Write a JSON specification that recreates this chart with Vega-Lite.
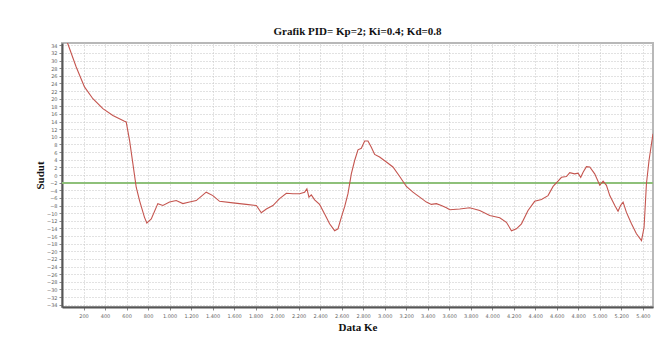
{
  "$schema": "https://vega.github.io/schema/vega-lite/v6.json",
  "autosize": {"type": "none"},
  "padding": {"left": 62, "top": 43, "right": 17, "bottom": 34},
  "width": 591,
  "height": 264,
  "background": "white",
  "config": {
    "locale": {"number": {"decimal": ",", "thousands": ".", "grouping": [3], "currency": ["", ""]}},
    "view": {"stroke": "#b8b8b8", "strokeWidth": 2},
    "axis": {
      "labelFont": "DejaVu Sans",
      "labelFontSize": 5,
      "labelColor": "#666666",
      "labelOverlap": false,
      "labelFlush": false,
      "tickColor": "#888888",
      "tickSize": 3,
      "grid": true,
      "gridColor": "#c4c4c4",
      "gridDash": [1, 2],
      "gridWidth": 1,
      "domainColor": "#555555",
      "domainWidth": 2,
      "titleFont": "Liberation Serif",
      "titleFontWeight": "bold",
      "titleFontSize": 11,
      "titleColor": "#111111"
    }
  },
  "title": {
    "text": "Grafik PID= Kp=2; Ki=0.4; Kd=0.8",
    "font": "Liberation Serif",
    "fontSize": 11,
    "fontWeight": "bold",
    "color": "#111111",
    "offset": 6
  },
  "data": {
    "values": [
      {"i": 20, "sudut": 37.5},
      {"i": 54, "sudut": 34.4},
      {"i": 132, "sudut": 28.3},
      {"i": 209, "sudut": 23.1},
      {"i": 287, "sudut": 20.0},
      {"i": 380, "sudut": 17.4},
      {"i": 473, "sudut": 15.6},
      {"i": 581, "sudut": 14.1},
      {"i": 597, "sudut": 13.9},
      {"i": 628, "sudut": 9.1},
      {"i": 659, "sudut": 3.0},
      {"i": 690, "sudut": -3.2},
      {"i": 721, "sudut": -6.7},
      {"i": 767, "sudut": -11.1},
      {"i": 789, "sudut": -12.6},
      {"i": 830, "sudut": -11.5},
      {"i": 891, "sudut": -7.5},
      {"i": 938, "sudut": -8.0},
      {"i": 1000, "sudut": -7.1},
      {"i": 1062, "sudut": -6.7},
      {"i": 1124, "sudut": -7.5},
      {"i": 1186, "sudut": -7.1},
      {"i": 1248, "sudut": -6.7},
      {"i": 1341, "sudut": -4.5},
      {"i": 1403, "sudut": -5.4},
      {"i": 1465, "sudut": -6.9},
      {"i": 1589, "sudut": -7.3},
      {"i": 1713, "sudut": -7.7},
      {"i": 1807, "sudut": -8.0},
      {"i": 1853, "sudut": -9.9},
      {"i": 1900, "sudut": -8.9},
      {"i": 1961, "sudut": -8.0},
      {"i": 2023, "sudut": -6.2},
      {"i": 2086, "sudut": -4.8},
      {"i": 2147, "sudut": -4.9},
      {"i": 2209, "sudut": -4.9},
      {"i": 2256, "sudut": -4.5},
      {"i": 2277, "sudut": -3.6},
      {"i": 2296, "sudut": -5.8},
      {"i": 2318, "sudut": -5.2},
      {"i": 2349, "sudut": -6.5},
      {"i": 2395, "sudut": -7.7},
      {"i": 2442, "sudut": -10.2},
      {"i": 2488, "sudut": -12.8},
      {"i": 2535, "sudut": -14.6},
      {"i": 2566, "sudut": -14.1},
      {"i": 2597, "sudut": -11.1},
      {"i": 2628, "sudut": -8.3},
      {"i": 2659, "sudut": -4.9},
      {"i": 2690, "sudut": 0.3},
      {"i": 2721, "sudut": 3.8},
      {"i": 2752, "sudut": 6.6},
      {"i": 2783, "sudut": 7.0},
      {"i": 2814, "sudut": 8.9},
      {"i": 2845, "sudut": 8.9},
      {"i": 2876, "sudut": 7.3},
      {"i": 2907, "sudut": 5.4},
      {"i": 2953, "sudut": 4.7},
      {"i": 3016, "sudut": 3.4},
      {"i": 3077, "sudut": 2.1},
      {"i": 3140, "sudut": -0.4},
      {"i": 3202, "sudut": -3.0},
      {"i": 3263, "sudut": -4.5},
      {"i": 3326, "sudut": -5.8},
      {"i": 3388, "sudut": -7.1},
      {"i": 3434, "sudut": -7.7},
      {"i": 3481, "sudut": -7.5},
      {"i": 3527, "sudut": -8.0},
      {"i": 3574, "sudut": -8.6},
      {"i": 3605, "sudut": -9.1},
      {"i": 3698, "sudut": -8.9},
      {"i": 3791, "sudut": -8.6},
      {"i": 3884, "sudut": -9.3},
      {"i": 3977, "sudut": -10.6},
      {"i": 4070, "sudut": -11.2},
      {"i": 4132, "sudut": -12.4},
      {"i": 4179, "sudut": -14.6},
      {"i": 4225, "sudut": -14.1},
      {"i": 4272, "sudut": -12.8},
      {"i": 4333, "sudut": -9.3},
      {"i": 4395, "sudut": -6.9},
      {"i": 4458, "sudut": -6.4},
      {"i": 4519, "sudut": -5.4},
      {"i": 4566, "sudut": -3.0},
      {"i": 4612, "sudut": -1.6},
      {"i": 4644, "sudut": -0.6},
      {"i": 4690, "sudut": -0.4},
      {"i": 4721, "sudut": 0.6},
      {"i": 4767, "sudut": 0.3},
      {"i": 4798, "sudut": 0.5},
      {"i": 4823, "sudut": -0.6},
      {"i": 4845, "sudut": 0.7},
      {"i": 4876, "sudut": 2.2},
      {"i": 4907, "sudut": 2.1},
      {"i": 4953, "sudut": 0.3},
      {"i": 5000, "sudut": -2.7},
      {"i": 5031, "sudut": -1.6},
      {"i": 5062, "sudut": -2.7},
      {"i": 5093, "sudut": -5.4},
      {"i": 5140, "sudut": -8.0},
      {"i": 5170, "sudut": -9.5},
      {"i": 5193, "sudut": -8.0},
      {"i": 5217, "sudut": -7.1},
      {"i": 5248, "sudut": -9.8},
      {"i": 5295, "sudut": -12.8},
      {"i": 5341, "sudut": -15.4},
      {"i": 5388, "sudut": -17.2},
      {"i": 5412, "sudut": -13.7},
      {"i": 5434, "sudut": -2.3},
      {"i": 5458, "sudut": 3.8},
      {"i": 5481, "sudut": 8.2},
      {"i": 5495, "sudut": 10.8}
    ]
  },
  "encoding": {
    "y": {
      "field": "sudut",
      "type": "quantitative",
      "title": "Sudut",
      "scale": {"domain": [-34.6, 34.6], "nice": false, "zero": false},
      "axis": {
        "values": [-34, -32, -30, -28, -26, -24, -22, -20, -18, -16, -14, -12, -10, -8, -6, -4, -2, 0, 2, 4, 6, 8, 10, 12, 14, 16, 18, 20, 22, 24, 26, 28, 30, 32, 34],
        "format": "d",
        "labelPadding": 2,
        "titlePadding": 1
      }
    }
  },
  "layer": [
    {
      "mark": {"type": "rule", "color": "#8cc07c", "strokeWidth": 1},
      "encoding": {"y": {"datum": -2, "type": "quantitative"}}
    },
    {
      "mark": {"type": "line", "color": "#c4554f", "strokeWidth": 1.1, "clip": true},
      "encoding": {
        "x": {
          "field": "i",
          "type": "quantitative",
          "title": "Data Ke",
          "scale": {"domain": [0, 5495], "nice": false, "zero": false},
          "axis": {
            "values": [200, 400, 600, 800, 1000, 1200, 1400, 1600, 1800, 2000, 2200, 2400, 2600, 2800, 3000, 3200, 3400, 3600, 3800, 4000, 4200, 4400, 4600, 4800, 5000, 5200, 5400],
            "format": ",d",
            "labelPadding": 3,
            "titlePadding": 3
          }
        }
      }
    }
  ]
}
